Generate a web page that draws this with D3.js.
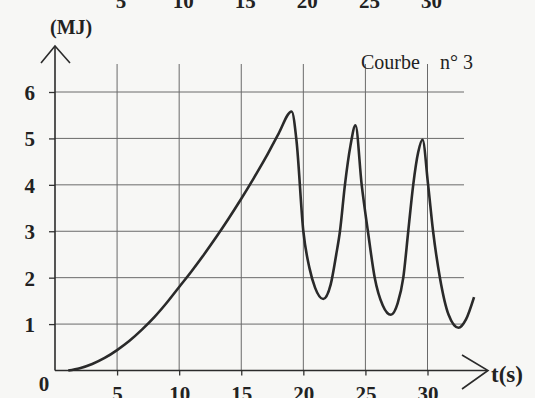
<!DOCTYPE html>
<html>
<head>
<meta charset="utf-8">
<script src="https://cdn.jsdelivr.net/npm/d3@7"></script>
<style>
  body { margin: 0; background: #f7f7f5; }
  svg { display: block; }
</style>
</head>
<body>
<div id="chart"></div>
<script>
// energy curve (Courbe n° 3)
const times = [1.07, 2, 3, 4, 5, 6, 7, 8, 9, 10, 11, 12, 13, 14, 15, 16, 17, 18, 19.06,
  19.45, 20, 20.5, 20.95, 21.6, 22.2, 22.65, 22.95, 23.35, 23.8, 24.2,
  24.7, 25.2, 25.75, 26.4, 27.05, 27.6, 28.05, 28.45, 28.85, 29.25, 29.6,
  30.05, 30.45, 31, 31.7, 32.5, 33.1, 33.75];
const energy = [0, 0.05, 0.14, 0.27, 0.44, 0.64, 0.88, 1.15, 1.46, 1.8, 2.14, 2.5, 2.88, 3.28, 3.7, 4.14, 4.6, 5.1, 5.58,
  4.95, 3.0, 2.2, 1.78, 1.54, 1.85, 2.5, 3.0, 4.0, 4.85, 5.28,
  4.0, 3.0, 2.0, 1.4, 1.2, 1.45, 2.0, 3.0, 4.0, 4.7, 4.97,
  4.0, 3.0, 2.0, 1.2, 0.92, 1.1, 1.58];

const xTicks = [5, 10, 15, 20, 25, 30];
const yTicks = [1, 2, 3, 4, 5, 6];
const topStrayLabels = ['5', '10', '15', '20', '25', '30'];

const width = 535, height = 398;
const serif = '"Liberation Serif", "DejaVu Serif", serif';

const svg = d3.select('#chart')
  .append('svg')
  .attr('width', width)
  .attr('height', height);

const x = d3.scaleLinear().domain([0, 30]).range([55, 427.5]);
const y = d3.scaleLinear().domain([0, 6]).range([370.5, 92]);

function label(sel, size, weight) {
  return sel.style('font-family', serif)
    .style('font-size', `${size}px`)
    .style('font-weight', weight || 'normal')
    .style('fill', '#222');
}

// stray numbers from the figure above (cut by the page edge)
svg.append('g')
  .selectAll('text')
  .data(topStrayLabels)
  .enter()
  .append('text')
  .attr('x', (d, i) => x(xTicks[i]) + 4)
  .attr('y', 8)
  .attr('text-anchor', 'middle')
  .call(label, 21, 'bold')
  .text((d) => d);

// grid
const grid = svg.append('g').attr('stroke', '#6a6a6a').attr('stroke-width', 1);
grid.selectAll('.vg')
  .data(xTicks)
  .enter()
  .append('line')
  .attr('x1', (d) => x(d)).attr('x2', (d) => x(d))
  .attr('y1', y(0)).attr('y2', 64);
grid.selectAll('.hg')
  .data(yTicks)
  .enter()
  .append('line')
  .attr('x1', x(0)).attr('x2', 464)
  .attr('y1', (d) => y(d)).attr('y2', (d) => y(d));

// axes
const xAxis = svg.append('g')
  .attr('transform', `translate(0,${y(0)})`)
  .call(d3.axisBottom(x).tickValues(xTicks).tickFormat(d3.format('d'))
    .tickSize(5).tickPadding(25));
const yAxis = svg.append('g')
  .attr('transform', `translate(${x(0)},0)`)
  .call(d3.axisLeft(y).tickValues(yTicks).tickFormat(d3.format('d'))
    .tickSize(6).tickPadding(14));

[xAxis, yAxis].forEach((ax) => {
  ax.select('.domain').remove();
  ax.selectAll('.tick line').attr('stroke', '#333').attr('stroke-width', 1.3);
  ax.selectAll('.tick text').call(label, 21, 'bold');
});
xAxis.selectAll('.tick text').attr('dy', '0');
yAxis.selectAll('.tick text').attr('dy', '0.35em');

const axisPen = svg.append('g')
  .attr('stroke', '#2b2b2b')
  .attr('stroke-width', 1.6)
  .attr('fill', 'none');
axisPen.append('line')
  .attr('x1', x(0)).attr('x2', 487)
  .attr('y1', y(0)).attr('y2', y(0));
axisPen.append('line')
  .attr('x1', x(0)).attr('x2', x(0))
  .attr('y1', y(0)).attr('y2', 46);
axisPen.append('polyline')
  .attr('points', `462,355 488,${y(0)} 462,389`);
axisPen.append('polyline')
  .attr('points', `41,63 ${x(0)},46 70,63`);

svg.append('text')
  .attr('x', 44).attr('y', 391)
  .attr('text-anchor', 'middle')
  .call(label, 21, 'bold')
  .text('0');

svg.append('text')
  .attr('x', 491).attr('y', 382)
  .call(label, 23, 'bold')
  .text('t(s)');

svg.append('text')
  .attr('x', 50).attr('y', 34)
  .call(label, 20, 'bold')
  .text('(MJ)');

svg.append('text')
  .attr('x', 361).attr('y', 69)
  .call(label, 20)
  .text('Courbe');
svg.append('text')
  .attr('x', 440).attr('y', 69)
  .call(label, 20)
  .text('n° 3');

// the curve
const points = times.map((t, i) => [t, energy[i]]);
const line = d3.line()
  .x((d) => x(d[0]))
  .y((d) => y(d[1]))
  .curve(d3.curveMonotoneX);

svg.append('path')
  .datum(points)
  .attr('d', line)
  .attr('fill', 'none')
  .attr('stroke', '#2a2a2a')
  .attr('stroke-width', 2.6)
  .attr('stroke-linejoin', 'round');
</script>
</body>
</html>
